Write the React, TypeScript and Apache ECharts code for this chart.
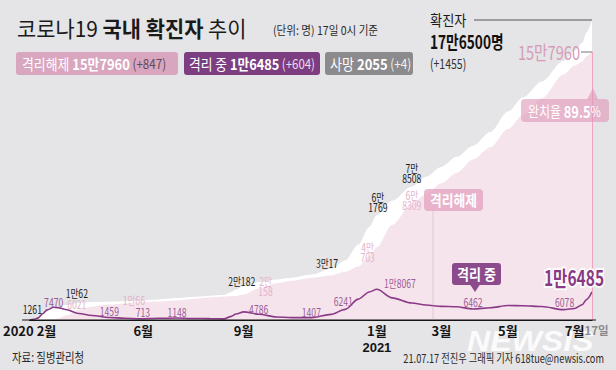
import React, { useEffect, useRef } from 'react';
import * as echarts from 'echarts';

// ---- data ----
const dates = [
  '2020-02-18', '2020-02-22', '2020-02-26', '2020-03-01', '2020-03-05', '2020-03-11', '2020-03-15', '2020-03-22',
  '2020-04-03', '2020-04-15', '2020-05-01', '2020-05-15', '2020-05-29', '2020-06-15', '2020-07-02', '2020-07-15',
  '2020-08-01', '2020-08-14', '2020-08-20', '2020-08-25', '2020-09-01', '2020-09-15', '2020-10-01', '2020-10-15',
  '2020-11-02', '2020-11-20', '2020-12-03', '2020-12-15', '2020-12-25', '2021-01-01', '2021-01-15', '2021-02-02',
  '2021-02-15', '2021-03-01', '2021-03-15', '2021-03-30', '2021-04-15', '2021-05-01', '2021-05-15', '2021-06-01',
  '2021-06-21', '2021-07-01', '2021-07-08', '2021-07-12', '2021-07-17',
];
// 확진자 (cumulative confirmed)
const confirmed = [
  31, 433, 1261, 3736, 6088, 7755, 8162, 8897, 10062, 10591, 10774, 11018, 11402, 12121, 12904, 13551,
  14336, 14770, 16346, 17945, 20182, 22285, 23889, 24889, 26732, 30017, 35163, 44364, 54770, 61769, 70212, 78508,
  84325, 90029, 96017, 102582, 110563, 122633, 131061, 140340, 152545, 158549, 163025, 169146, 176500,
];
// 격리해제 (cumulative released)
const released = [
  12, 16, 22, 30, 88, 225, 834, 2612, 6021, 7761, 9067, 9698, 10420, 10854, 11474, 12355,
  13220, 13801, 14040, 14136, 15072, 18578, 21674, 23030, 24857, 26217, 28372, 31464, 37514, 42785, 56000, 68309,
  74000, 80424, 86539, 94394, 101579, 112300, 120758, 130481, 144465, 149732, 151992, 155102, 157960,
];
// 격리 중 (in isolation)
const isolated = [
  19, 415, 1227, 3680, 5955, 7470, 7253, 6180, 3867, 2605, 1459, 1060, 713, 990, 1148, 907,
  815, 664, 2000, 3500, 4786, 3340, 1800, 1420, 1407, 3300, 6241, 12300, 16500, 18067, 13000, 10000,
  8800, 8000, 7800, 6462, 7200, 8500, 8400, 7900, 6078, 6800, 9000, 12000, 16485,
];

const tickDates = ['2020-02-18', '2020-06-01', '2020-09-01', '2021-01-01', '2021-03-01', '2021-05-01', '2021-07-01'];
const tickLabels = ['{m|2020 2월}', '{m|6월}', '{m|9월}', '{m|1월}\n{y|2021}', '{m|3월}', '{m|5월}', '{m|7월}'];
const endTickLabel = '17일';

// labelled data points
const noteDates = [
  '2020-02-26', '2020-03-11', '2020-04-03', '2020-04-03', '2020-05-01', '2020-05-22', '2020-05-29', '2020-07-02',
  '2020-09-01', '2020-09-21', '2020-09-01', '2020-11-02', '2020-11-20', '2020-12-03', '2020-12-29', '2021-01-01',
  '2021-01-01', '2021-02-02', '2021-02-02', '2021-03-30', '2021-06-21', '2021-07-17',
];
const noteValues = [
  1261, 7470, 10062, 6021, 1459, 10066, 713, 1148, 20182, 20158, 4786, 1407, 30017, 6241, 40703, 18067,
  61769, 78508, 68309, 6462, 6078, 16485,
];
const noteTexts = [
  '1261', '7470', '1만62', '6021', '1459', '1만66', '713', '1148', '2만182', '2만\n158', '4786', '1407', '3만17', '6241', '4만\n703', '1만8067',
  '6만\n1769', '7만\n8508', '6만\n8309', '6462', '6078', '1만6485',
];
const noteKinds = ['c', 'i', 'c', 'r', 'i', 'r', 'i', 'i', 'c', 'r', 'i', 'i', 'c', 'i', 'r', 'i', 'c', 'c', 'r', 'i', 'i', 'big'];

// ---- presentation ----
const noteOffsets = [
  [-6, -9], [0, -5], [-2, -10], [-2, -6], [0, -6.5], [1.5, -3], [3, -7], [0, -6], [-2, -5], [0, 0], [15, -3], [0, -5.5],
  [-4, -6], [-2, -8], [-6, 1], [23, -6], [1, -13], [0, -13.5], [0, -4], [0, -7], [1, -8], [-18, -15],
];
const KR = "'Noto Sans CJK KR', sans-serif";
const LAT = "'Liberation Sans', Arial, sans-serif";
const noteStyle: Record<string, any> = {
  c: { color: '#1c1c1c', size: 11.5, weight: 'normal', scaleX: 0.75, lh: 10 },
  r: { color: '#e4b3ca', size: 11.5, weight: 'normal', scaleX: 0.75, lh: 10 },
  i: { color: '#9b5b97', size: 11.5, weight: 'normal', scaleX: 0.75, lh: 10 },
  big: { color: '#8a3a84', size: 21, weight: 'bold', scaleX: 0.74, lh: 22, stroke: '#ffffff', lineWidth: 3.5 },
};

const ts = (s: string) => {
  const [y, m, d] = s.split('-').map(Number);
  return new Date(y, m - 1, d).getTime();
};

export default function App() {
  const ref = useRef<HTMLDivElement>(null);
  useEffect(() => {
    document.body.style.margin = '0';
    if (!ref.current) return;
    const chart = echarts.init(ref.current, undefined, { renderer: 'svg' });
    const tickMap: Record<number, string> = {};
    tickDates.forEach((d, i) => { tickMap[ts(d)] = tickLabels[i]; });
    const pairs = (vals: number[]) => dates.map((d, i) => [ts(d), vals[i]]);
    const T0 = ts(dates[0]);
    const T1 = ts(dates[dates.length - 1]);

    const boxText = (x: number, y: number, text: string, rich: any, scaleX: number) => ({
      type: 'text', x, y, scaleX, z: 100,
      style: { text, rich, textVerticalAlign: 'middle', textAlign: 'left' },
    });
    const r = (size: number, fill: string, weight = 'normal') => ({ fontSize: size, fontFamily: KR, fontWeight: weight, fill });

    const graphic: any[] = [
      // title
      boxText(17, 27, '{r|코로나19 }{b|국내 확진자}{r| 추이}', { r: r(22, '#1a1a1a'), b: r(22, '#1a1a1a', 'bold') }, 0.95),
      boxText(273, 30, '{s|(단위: 명) 17일 0시 기준}', { s: r(12, '#2a2a2a') }, 0.88),
      // summary boxes
      { type: 'rect', z: 99, shape: { x: 16, y: 52, width: 162, height: 23, r: 3 }, style: { fill: '#d8a6be' } },
      boxText(22, 63.5, '{a|격리해제 }{b|15만7960}{c| (+847)}', { a: r(15, '#ffffff'), b: r(15, '#ffffff', 'bold'), c: r(13.5, '#5e4a57') }, 0.86),
      { type: 'rect', z: 99, shape: { x: 184, y: 52, width: 136, height: 23, r: 3 }, style: { fill: '#7c3e81' } },
      boxText(189, 63.5, '{a|격리 중 }{b|1만6485}{c| (+604)}', { a: r(15, '#ffffff'), b: r(15, '#ffffff', 'bold'), c: r(13.5, '#eadcea') }, 0.85),
      { type: 'rect', z: 99, shape: { x: 325, y: 52, width: 88, height: 23, r: 3 }, style: { fill: '#8b8a8c' } },
      boxText(330, 63.5, '{a|사망 }{b|2055}{c| (+4)}', { a: r(15, '#ffffff'), b: r(15, '#ffffff', 'bold'), c: r(13.5, '#f2f2f2') }, 0.87),
      // confirmed headline
      boxText(430, 20, '{a|확진자}', { a: r(15, '#1a1a1a') }, 0.88),
      { type: 'line', z: 100, shape: { x1: 474, y1: 20, x2: 592, y2: 20 }, style: { stroke: '#555555', lineWidth: 1 } },
      boxText(430, 41, '{a|17만6500명}', { a: r(18, '#111111', 'bold') }, 0.76),
      boxText(430, 63, '{a|(+1455)}', { a: r(14, '#333333') }, 0.75),
      // released headline
      {
        type: 'text', x: 580, y: 52, scaleX: 0.77, z: 100,
        style: { text: '15만7960', fontSize: 19, fontFamily: KR, fill: '#d59cb8', textAlign: 'right', textVerticalAlign: 'middle' },
      },
      { type: 'line', z: 100, shape: { x1: 581, y1: 52, x2: 592, y2: 52 }, style: { stroke: '#777777', lineWidth: 1 } },
      // recovery rate box
      { type: 'polygon', z: 99, shape: { points: [[587, 99.5], [593, 88], [598, 99.5]] }, style: { fill: 'rgba(222,150,184,0.6)' } },
      { type: 'rect', z: 99, shape: { x: 521, y: 99, width: 88, height: 23, r: 4 }, style: { fill: 'rgba(222,150,184,0.6)' } },
      boxText(528, 110.5, '{a|완치율 }{b|89.5}{c|%}', { a: r(15, '#ffffff'), b: r(16, '#ffffff', 'bold'), c: r(14, '#ffffff') }, 0.8),
      // 격리해제 tag
      { type: 'line', z: 98, shape: { x1: 433, y1: 211, x2: 433, y2: 320 }, style: { stroke: 'rgba(190,140,165,0.35)', lineWidth: 1 } },
      { type: 'rect', z: 99, shape: { x: 424, y: 189, width: 59, height: 22, r: 4 }, style: { fill: 'rgba(226,158,190,0.72)' } },
      {
        type: 'text', x: 453.5, y: 200, scaleX: 0.85, z: 100,
        style: { text: '격리해제', fontSize: 15, fontFamily: KR, fontWeight: 'bold', fill: '#ffffff', textAlign: 'center', textVerticalAlign: 'middle' },
      },
      // 격리 중 tag
      { type: 'polygon', z: 99, shape: { points: [[470, 284.5], [475, 292], [480, 284.5]] }, style: { fill: '#8b4a8b' } },
      { type: 'rect', z: 99, shape: { x: 452, y: 263, width: 49, height: 22, r: 3 }, style: { fill: '#8b4a8b' } },
      {
        type: 'text', x: 476.5, y: 274, scaleX: 0.87, z: 100,
        style: { text: '격리 중', fontSize: 15, fontFamily: KR, fontWeight: 'bold', fill: '#ffffff', textAlign: 'center', textVerticalAlign: 'middle' },
      },
      // x-axis baseline extension (reference line runs slightly past the plot)
      { type: 'line', z: 50, shape: { x1: 22, y1: 320, x2: 596, y2: 320 }, style: { stroke: '#151515', lineWidth: 1.2 } },
      // watermark (below axis labels) + credits
      {
        type: 'text', x: 467, y: 341, scaleX: 1.07, z: 8,
        style: { text: 'NEWSIS', fontSize: 30, fontFamily: LAT, fontWeight: 'bold', fontStyle: 'italic', fill: 'rgba(255,255,255,0.88)', textVerticalAlign: 'middle' },
      },
      boxText(12, 356, '{a|자료: 질병관리청}', { a: r(13, '#2a2a2a') }, 0.8),
      {
        type: 'text', x: 604, y: 358, scaleX: 0.77, z: 101,
        style: { text: '21.07.17 전진우 그래픽 기자 618tue@newsis.com', fontSize: 12, fontFamily: KR, fill: '#2a2a2a', textAlign: 'right', textVerticalAlign: 'middle' },
      },
    ];

    chart.setOption({
      animation: false,
      backgroundColor: '#e5e4e6',
      grid: { left: 25, right: 24, top: 20, bottom: 50 },
      xAxis: [
        {
          type: 'value',
          min: T0,
          max: T1,
          z: 10,
          axisLine: { show: true, onZero: false, lineStyle: { color: '#151515', width: 1.2 } },
          axisTick: { show: false },
          splitLine: { show: false },
          axisLabel: {
            customValues: tickDates.map(ts),
            formatter: (v: number) => tickMap[v] ?? '',
            margin: 2.5,
            color: '#151515',
            fontSize: 13,
            fontWeight: 'bold',
            fontFamily: KR,
            showMinLabel: true,
            hideOverlap: false,
            rich: {
              m: { color: '#151515', fontSize: 13, fontWeight: 'bold', fontFamily: KR, lineHeight: 15 },
              y: { color: '#151515', fontSize: 13, fontWeight: 'bold', fontFamily: LAT, lineHeight: 19 },
            },
          },
        },
        {
          // end-date label on its own axis so it never hides the 7월 label
          type: 'value',
          min: T0,
          max: T1,
          position: 'bottom',
          z: 10,
          axisLine: { show: false },
          axisTick: { show: false },
          splitLine: { show: false },
          axisLabel: {
            customValues: [T1],
            formatter: () => '{g|' + endTickLabel + '}',
            margin: 2.5,
            showMaxLabel: true,
            hideOverlap: false,
            rich: {
              g: { color: '#8a8a8a', fontSize: 11.5, fontWeight: 'bold', fontFamily: KR, lineHeight: 15, padding: [0, 0, 0, 9] },
            },
          },
        },
      ],
      yAxis: { type: 'value', min: 0, max: 176500, show: false, splitLine: { show: false } },
      series: [
        {
          name: '확진자', type: 'line', data: pairs(confirmed), smooth: 0.3, smoothMonotone: 'x', symbol: 'none', z: 1,
          lineStyle: { width: 0 }, areaStyle: { color: '#ffffff', opacity: 1 },
        },
        {
          name: '격리해제', type: 'line', data: pairs(released), smooth: 0.3, smoothMonotone: 'x', symbol: 'none', z: 2,
          lineStyle: { width: 0 }, areaStyle: { color: '#f6e4ec', opacity: 1 },
          markLine: {
            silent: true, symbol: 'none', label: { show: false },
            lineStyle: { color: '#efa3c2', width: 1, type: 'solid' },
            data: [[{ coord: [T1, 0] }, { coord: [T1, released[released.length - 1]] }]],
          },
        },
        {
          name: '격리 중', type: 'line', data: pairs(isolated), smooth: 0.3, smoothMonotone: 'x', symbol: 'none', z: 3,
          lineStyle: { color: '#8b3a87', width: 1.6 },
        },
        {
          name: 'labels', type: 'custom', z: 5, clip: false,
          data: noteDates.map((d, i) => [ts(d), noteValues[i]]),
          encode: { x: 0, y: 1 },
          renderItem: (params: any, api: any) => {
            const i = params.dataIndex;
            const p = api.coord([api.value(0), api.value(1)]);
            const k = noteStyle[noteKinds[i]];
            const off = noteOffsets[i];
            const style: any = {
              text: noteTexts[i], fill: k.color, fontSize: k.size, fontFamily: KR, fontWeight: k.weight,
              textAlign: 'center', textVerticalAlign: 'middle', lineHeight: k.lh,
            };
            if (k.stroke) { style.stroke = k.stroke; style.lineWidth = k.lineWidth; style.strokeFirst = true; }
            return { type: 'text', x: p[0] + off[0], y: p[1] + off[1], scaleX: k.scaleX, style };
          },
        },
      ],
      graphic,
    });
    return () => chart.dispose();
  }, []);
  return <div ref={ref} style={{ width: 616, height: 370 }} />;
}
